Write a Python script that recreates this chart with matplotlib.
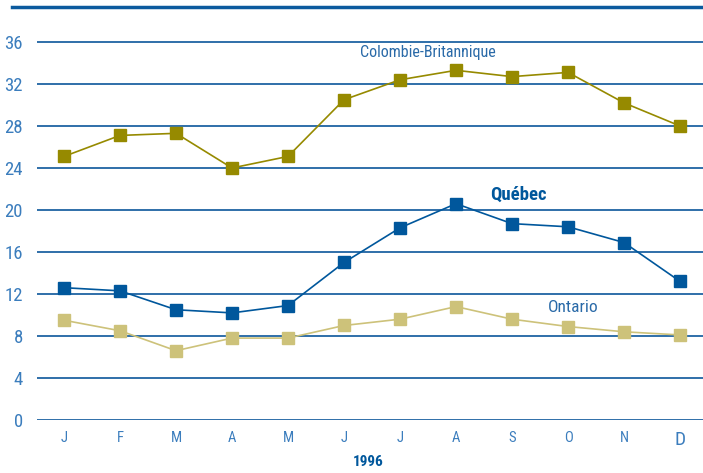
import matplotlib.pyplot as plt
from matplotlib.lines import Line2D

months = ['J', 'F', 'M', 'A', 'M', 'J', 'J', 'A', 'S', 'O', 'N', 'D']
cb = [25.1, 27.1, 27.3, 24.0, 25.1, 30.5, 32.4, 33.3, 32.7, 33.1, 30.2, 28.0]
quebec = [12.6, 12.3, 10.5, 10.2, 10.9, 15.0, 18.3, 20.6, 18.7, 18.4, 16.9, 13.2]
ontario = [9.5, 8.5, 6.6, 7.8, 7.8, 9.0, 9.6, 10.8, 9.6, 8.9, 8.4, 8.1]
yticks = [0, 4, 8, 12, 16, 20, 24, 28, 32, 36]

plt.rcParams['font.family'] = ['Liberation Sans Narrow', 'Roboto Condensed',
                               'Liberation Sans', 'DejaVu Sans']

W, H = 703, 473
fig = plt.figure(figsize=(W / 100, H / 100), dpi=100)
ax = fig.add_axes([37 / W, 53 / H, 1 - 37 / W, (420 - 7) / H])

grid_c = '#1f63a3'
tick_c = '#3b7dbd'
x = list(range(len(months)))

for v in yticks:
    ax.axhline(v, color=grid_c, lw=1.3, zorder=1)

ax.plot(x, cb, color='#968a00', lw=1.2, marker='s', ms=8.5, zorder=3)
ax.plot(x, quebec, color='#00579c', lw=1.2, marker='s', ms=8.5, zorder=3)
ax.plot(x, ontario, color='#cdc27a', lw=1.2, marker='s', ms=8.5, zorder=3)

ax.set_xlim(-0.482, 11.41)
ax.set_ylim(0, 39.33)
for s in ax.spines.values():
    s.set_visible(False)

ax.set_yticks(yticks)
ax.set_yticklabels([str(v) for v in yticks], fontsize=13.5, color=tick_c)
ax.set_xticks(x)
ax.set_xticklabels(months, fontsize=10.5, color=tick_c)
ax.get_xticklabels()[-1].set_fontsize(14)
ax.tick_params(axis='y', length=0, pad=10)
ax.tick_params(axis='x', length=0, pad=8)

ax.text(5.29, 35.0, 'Colombie-Britannique', fontsize=11.5, color='#2a6aa8',
        ha='left', va='center')
ax.text(8.12, 21.4, 'Québec', fontsize=13.5, color='#00579c', fontweight='bold',
        ha='center', va='center')
ax.text(9.09, 10.67, 'Ontario', fontsize=12.5, color='#2a6aa8', ha='center', va='center')

fig.text(368 / W, 1 - 462 / H, '1996', fontsize=11, color='#00579c',
         fontweight='bold', ha='center', va='center')

fig.add_artist(Line2D([12 / W, 1], [1 - 7 / H, 1 - 7 / H], color='#0b5a9e', lw=2.5))

fig.savefig('out.png', dpi=100)
